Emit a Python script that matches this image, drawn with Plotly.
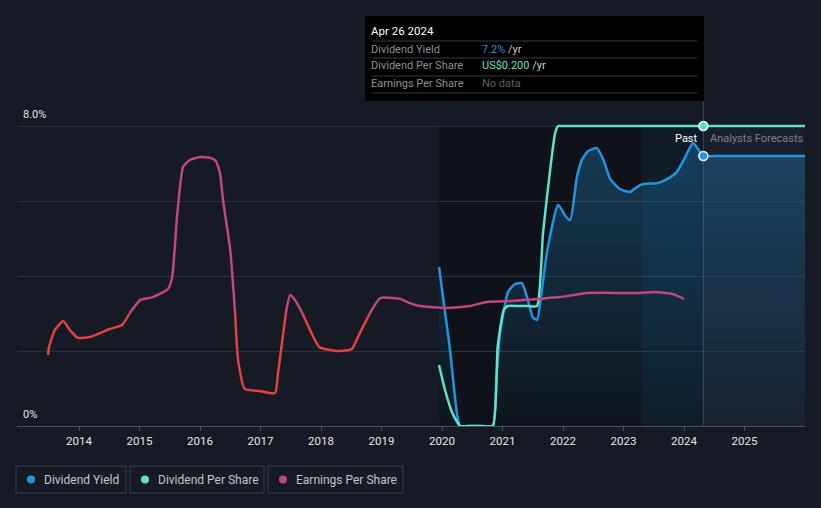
import plotly.graph_objects as go

# ---------------- data ----------------
yield_x = [2019.95, 2020.12, 2020.25, 2020.30, 2020.45, 2020.65, 2020.84, 2020.90, 2020.96, 2021.09,
           2021.20, 2021.32, 2021.42, 2021.50, 2021.57, 2021.65, 2021.74, 2021.92, 2022.04, 2022.12,
           2022.23, 2022.31, 2022.41, 2022.56, 2022.67, 2022.78, 2022.94, 2023.11, 2023.20, 2023.31,
           2023.57, 2023.75, 2023.88, 2024.02, 2024.15, 2024.32, 2024.50, 2024.80, 2025.20, 2025.60,
           2026.0]
yield_y = [4.24, 2.20, 0.29, 0.0, 0.0, 0.0, 0.0, 1.30, 2.48, 3.57,
           3.78, 3.81, 3.36, 2.90, 2.83, 3.60, 4.69, 5.90, 5.60, 5.49,
           6.64, 7.09, 7.33, 7.41, 7.09, 6.59, 6.32, 6.24, 6.35, 6.45,
           6.48, 6.61, 6.77, 7.17, 7.55, 7.20, 7.20, 7.20, 7.20, 7.20,
           7.20]

dps_x = [2019.95, 2020.05, 2020.17, 2020.30, 2020.45, 2020.65, 2020.84, 2020.92, 2021.02, 2021.09,
         2021.25, 2021.42, 2021.57, 2021.67, 2021.87, 2021.92, 2021.98, 2022.30, 2022.70, 2023.10,
         2023.50, 2023.90, 2024.32, 2024.70, 2025.10, 2025.50, 2026.0]
dps_y = [0.0407, 0.024, 0.0087, 0.0, 0.0, 0.0, 0.0, 0.0527, 0.0773, 0.080,
         0.080, 0.080, 0.080, 0.1287, 0.1953, 0.200, 0.200, 0.200, 0.200, 0.200,
         0.200, 0.200, 0.200, 0.200, 0.200, 0.200, 0.200]

eps_x = [2013.49, 2013.50, 2013.60, 2013.74, 2013.85, 2013.98, 2014.18, 2014.35, 2014.51, 2014.71,
         2014.84, 2015.01, 2015.22, 2015.47, 2015.54, 2015.62, 2015.72, 2015.83, 2016.00, 2016.17,
         2016.26, 2016.33, 2016.38, 2016.50, 2016.58, 2016.63, 2016.74, 2016.99, 2017.24, 2017.29,
         2017.42, 2017.49, 2017.57, 2017.69, 2017.82, 2017.97, 2018.26, 2018.51, 2018.64, 2018.81,
         2018.98, 2019.19, 2019.31, 2019.47, 2019.64, 2020.08, 2020.46, 2020.74, 2021.17, 2021.57,
         2021.95, 2022.40, 2022.83, 2023.27, 2023.52, 2023.82, 2024.00]
eps_y = [-0.140, -0.117, -0.057, -0.027, -0.057, -0.083, -0.080, -0.067, -0.053, -0.040,
         0.000, 0.043, 0.053, 0.080, 0.120, 0.320, 0.487, 0.510, 0.520, 0.517,
         0.507, 0.467, 0.377, 0.210, 0.000, -0.157, -0.253, -0.260, -0.267, -0.200,
         0.000, 0.060, 0.043, 0.000, -0.057, -0.113, -0.127, -0.120, -0.067, 0.000,
         0.050, 0.050, 0.047, 0.033, 0.023, 0.017, 0.023, 0.037, 0.040, 0.047,
         0.053, 0.067, 0.067, 0.067, 0.070, 0.063, 0.047]

tick_years = [2014, 2015, 2016, 2017, 2018, 2019, 2020, 2021, 2022, 2023, 2024, 2025]
tick_labels = [str(y) for y in tick_years]
y_grid = [0, 2, 4, 6, 8]
y_labels = ['0%', '8.0%']

hover_x = 2024.32
hover_yield = 7.2
hover_dps = 0.200
last_year_start = 2023.31
data_start = 2019.95
x_end = 2026.0

# ---------------- styles ----------------
BG = '#151a24'
BLUE = '#2394df'
TEAL = '#5ee3c8'
PINK = '#c2477f'
RED = '#e5423f'

W, H = 821, 508
L, R, T, B = 17, 805, 101, 426


def px(x):
    return (x - L) / (R - L)


def py(y):
    return (B - y) / (B - T)


fig = go.Figure()

fig.add_trace(go.Scatter(
    x=yield_x, y=yield_y, mode='lines', line=dict(color=BLUE, width=2.5, shape='spline', smoothing=0.5),
    fill='tozeroy',
    fillgradient=dict(type='vertical',
                      colorscale=[[0, 'rgba(35,148,223,0.02)'], [1, 'rgba(35,148,223,0.30)']]),
    hoverinfo='skip', showlegend=False))

fig.add_trace(go.Scatter(
    x=dps_x, y=dps_y, yaxis='y2', mode='lines',
    line=dict(color=TEAL, width=2.5, shape='spline', smoothing=0.5),
    hoverinfo='skip', showlegend=False))

# EPS split into positive (pink) and negative (red) runs
segs = []
cur_x, cur_y = [eps_x[0]], [eps_y[0]]
cur_sign = eps_y[0] >= 0 if eps_y[0] != 0 else eps_y[1] >= 0
for i in range(1, len(eps_x)):
    x0, y0, x1, y1 = eps_x[i - 1], eps_y[i - 1], eps_x[i], eps_y[i]
    if y1 == 0:
        cur_x.append(x1); cur_y.append(y1)
        segs.append((cur_sign, cur_x, cur_y))
        nxt = eps_y[i + 1] if i + 1 < len(eps_y) else 0
        cur_sign = nxt >= 0
        cur_x, cur_y = [x1], [y1]
        continue
    s = y1 >= 0
    if s != cur_sign and y0 != 0:
        xc = x0 + (x1 - x0) * (0 - y0) / (y1 - y0)
        cur_x.append(xc); cur_y.append(0)
        segs.append((cur_sign, cur_x, cur_y))
        cur_x, cur_y = [xc], [0]
        cur_sign = s
    cur_x.append(x1); cur_y.append(y1)
segs.append((cur_sign, cur_x, cur_y))

for pos, sx, sy in segs:
    if len(sx) < 2:
        continue
    fig.add_trace(go.Scatter(
        x=sx, y=sy, yaxis='y3', mode='lines',
        line=dict(color=PINK if pos else RED, width=2.5, shape='spline', smoothing=0.5),
        hoverinfo='skip', showlegend=False))

fig.add_trace(go.Scatter(x=[hover_x], y=[hover_dps], yaxis='y2', mode='markers',
                         marker=dict(color=TEAL, size=9, line=dict(color='white', width=1.5)),
                         hoverinfo='skip', showlegend=False))
fig.add_trace(go.Scatter(x=[hover_x], y=[hover_yield], mode='markers',
                         marker=dict(color=BLUE, size=9, line=dict(color='white', width=1.5)),
                         hoverinfo='skip', showlegend=False))

shapes = [
    dict(type='rect', xref='x', yref='y', x0=data_start, x1=hover_x, y0=0, y1=8,
         fillcolor='#0f1319', line=dict(width=0), layer='below'),
    dict(type='rect', xref='x', yref='y', x0=last_year_start, x1=hover_x, y0=0, y1=8,
         fillcolor='rgba(35,148,223,0.07)', line=dict(width=0), layer='below'),
    dict(type='rect', xref='x', yref='y', x0=hover_x, x1=x_end, y0=0, y1=8,
         fillcolor='#18202d', line=dict(width=0), layer='below'),
    dict(type='line', xref='x', yref='paper', x0=hover_x, x1=hover_x, y0=0, y1=1,
         line=dict(color='rgba(120,150,190,0.35)', width=1), layer='above'),
    dict(type='rect', xref='paper', yref='paper', x0=px(365), x1=px(704), y0=py(101), y1=py(16),
         fillcolor='#000000', line=dict(width=0), layer='above'),
]
for sy in [41, 58, 76, 93]:
    shapes.append(dict(type='line', xref='paper', yref='paper', x0=px(372), x1=px(697),
                       y0=py(sy), y1=py(sy), line=dict(color='#3a3a3a', width=1), layer='above'))

annotations = []


def ann(x, y, text, color, size=11, xanchor='left'):
    annotations.append(dict(xref='paper', yref='paper', x=px(x), y=py(y), text=text, showarrow=False,
                            xanchor=xanchor, yanchor='middle', font=dict(color=color, size=size)))


ann(369, 31, 'Apr 26 2024', '#ffffff', 11.5)
ann(369, 49, 'Dividend Yield', '#8d8f94', 11)
ann(369, 66, 'Dividend Per Share', '#8d8f94', 11)
ann(369, 84, 'Earnings Per Share', '#8d8f94', 11)
ann(480, 49, '<span style="color:%s">7.2%%</span> /yr' % BLUE, '#c9cbcf', 11)
ann(480, 66, '<span style="color:%s">US$0.200</span> /yr' % TEAL, '#c9cbcf', 11)
ann(480, 84, 'No data', '#5f6166', 11)

ann(700, 138, 'Past', '#ffffff', 11, 'right')
ann(708, 138, 'Analysts Forecasts', '#7d8087', 11)

ann(21, 414, y_labels[0], '#e6e6e6', 11)
ann(21, 114, y_labels[1], '#e6e6e6', 11)

legend_items = [('Dividend Yield', BLUE, 16, 126), ('Dividend Per Share', TEAL, 130, 264),
                ('Earnings Per Share', PINK, 268, 403)]
for name, col, x0, x1 in legend_items:
    shapes.append(dict(type='rect', xref='paper', yref='paper', x0=px(x0), x1=px(x1), y0=py(493), y1=py(466),
                       fillcolor='rgba(0,0,0,0)', line=dict(color='#3b404b', width=1), layer='above'))
    shapes.append(dict(type='circle', xref='paper', yref='paper', x0=px(x0 + 11), x1=px(x0 + 19),
                       y0=py(483.5), y1=py(475.5), fillcolor=col, line=dict(width=0), layer='above'))
    ann(x0 + 26, 479.5, name, '#c3c6cc', 12)

fig.update_layout(
    width=W, height=H,
    margin=dict(l=L, r=W - R, t=T, b=H - B, pad=0),
    paper_bgcolor=BG, plot_bgcolor=BG,
    font=dict(family='Roboto, sans-serif', color='#e6e6e6', size=11),
    showlegend=False,
    shapes=shapes, annotations=annotations,
    xaxis=dict(range=[2012.975, x_end], tickvals=tick_years, ticktext=tick_labels,
               showgrid=False, zeroline=False, showline=True, linecolor='#4a4f5a', linewidth=1,
               ticks='outside', ticklen=4, tickcolor='#4a4f5a',
               tickfont=dict(color='#e8e8e8', size=11.5)),
    yaxis=dict(range=[0, 8 * 325 / 300], tickvals=y_grid, showticklabels=False,
               showgrid=True, gridcolor='#2b303a', gridwidth=1, zeroline=False, showline=False),
    yaxis2=dict(range=[0, 0.2 * 325 / 300], overlaying='y', visible=False),
    yaxis3=dict(range=[(313 - 426) / 300, (313 - 101) / 300], overlaying='y', visible=False),
)

fig.write_html('out.html', config={'displayModeBar': False},
               post_script="document.body.style.margin='0';document.body.style.background='%s';" % BG)
